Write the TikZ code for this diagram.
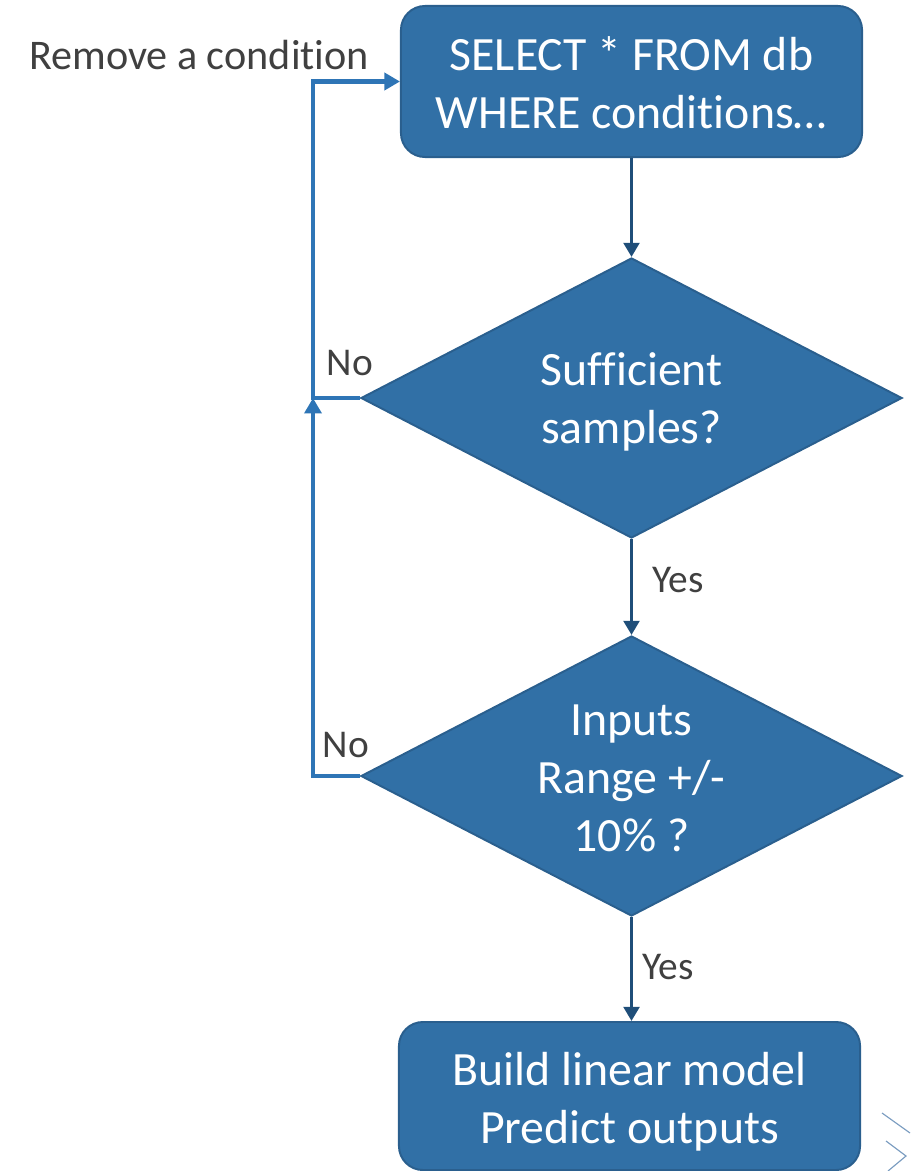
\documentclass[tikz,border=0pt]{standalone}
\usepackage{fontspec}
\setmainfont{Carlito}[Ligatures={NoCommon}]
\usetikzlibrary{shapes.geometric,arrows.meta}

\definecolor{boxblue}{HTML}{3170A6}
\definecolor{boxedge}{HTML}{2A5F8E}
\definecolor{flowblue}{HTML}{1F4E79}
\definecolor{backblue}{HTML}{2E75B6}
\definecolor{labelgray}{HTML}{404040}
\definecolor{stubblue}{HTML}{7A9CC0}

\tikzset{
  stepbox/.style={draw=boxedge, line width=1.4pt, fill=boxblue, rounded corners=0.6cm,
    text=white, align=center, minimum width=11.525cm, text depth=5pt,
    font=\fontsize{34}{41}\selectfont},
  testbox/.style={diamond, aspect=1.93, inner sep=0pt, draw=boxedge, line width=1.4pt,
    fill=boxblue, text=white, align=center, minimum width=13.525cm, minimum height=7cm,
    text depth=5pt, font=\fontsize{34}{41}\selectfont},
  flow/.style={flowblue, line width=2.8pt, -{Triangle[length=10pt,width=11pt]}},
  backedge/.style={backblue, line width=3pt, -{Triangle[length=11pt,width=12pt]}},
  lbl/.style={text=labelgray, inner sep=0pt, font=\fontsize{28}{34}\selectfont}
}

\begin{document}
\begin{tikzpicture}[x=0.025cm, y=-0.025cm]
    \useasboundingbox (0,0) rectangle (910,1171);

    \node[stepbox, minimum height=3.775cm, text height=71.2pt] (query) at (631.5,81.5) {SELECT * FROM db\\WHERE conditions…};
    \node[testbox, text height=69pt] (enough) at (631.5,398) {Sufficient\\samples?};
    \node[testbox, text height=111.7pt] (range) at (631.5,776) {Inputs\\Range +/-\\10\% ?};
    \node[stepbox, minimum height=3.7cm, text height=71.9pt] (model) at (629.5,1096) {Build linear model\\Predict outputs};

    \draw[flow] (query.south) -- (enough.north);
    \draw[flow] (enough.south) -- (range.north);
    \draw[flow] (range.south) -- (range.south |- model.north);

    % way back to the query
    \coordinate (corner) at (313,398);
    \draw[backedge] (enough.west) -- (corner) |- (query.west);
    \draw[backedge] (range.west) -| (corner);

    \node[lbl, font=\fontsize{30}{36}\selectfont] (remove) at (199,55) {Remove a condition};
    \node[lbl] (no1) at (350,363) {No};
    \node[lbl] (no2) at (346,745) {No};
    \node[lbl] (yes1) at (678,580) {Yes};
    \node[lbl] (yes2) at (668,967) {Yes};

    % cut-off mark in the corner
    \draw[stubblue, line width=0.8pt] (882,1113) -- (910,1133);
    \draw[stubblue, line width=0.8pt] (886,1141) -- (906,1156) -- (888,1171);
\end{tikzpicture}
\end{document}
